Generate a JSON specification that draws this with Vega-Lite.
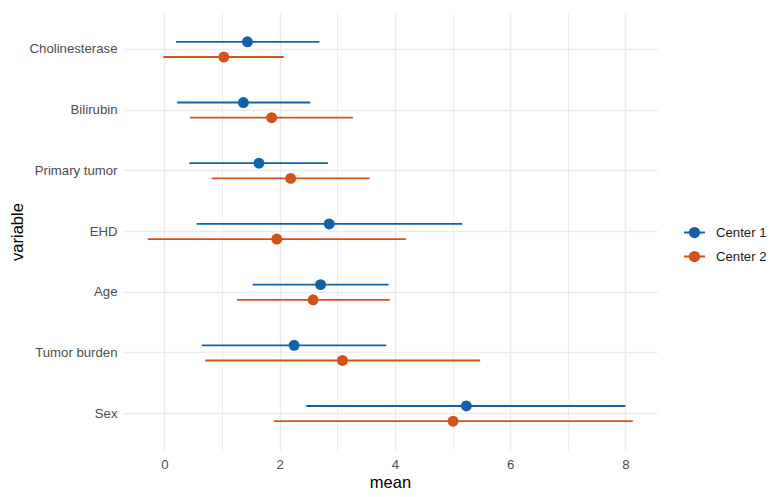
{
  "$schema": "https://vega.github.io/schema/vega-lite/v6.json",
  "autosize": {"type": "none"},
  "padding": {"left": 123, "top": 13, "right": 114, "bottom": 47},
  "width": 534,
  "height": 437,
  "background": "white",
  "config": {
    "font": "Liberation Sans",
    "view": {"stroke": null},
    "axis": {
      "domain": false,
      "ticks": false,
      "gridColor": "#EBEBEB",
      "gridWidth": 1.5,
      "labelColor": "#4D4D4D",
      "labelFontSize": 13.2,
      "titleColor": "#000000",
      "titleFontSize": 16.5,
      "titleFontWeight": "normal"
    },
    "legend": {
      "labelFontSize": 13.2,
      "labelColor": "#1A1A1A",
      "padding": 0
    }
  },
  "data": {
    "values": [
      {"variable": "Cholinesterase", "center": "Center 1", "mean": 1.44, "lo": 0.20, "hi": 2.69},
      {"variable": "Cholinesterase", "center": "Center 2", "mean": 1.03, "lo": -0.02, "hi": 2.07},
      {"variable": "Bilirubin", "center": "Center 1", "mean": 1.37, "lo": 0.22, "hi": 2.53},
      {"variable": "Bilirubin", "center": "Center 2", "mean": 1.86, "lo": 0.44, "hi": 3.27},
      {"variable": "Primary tumor", "center": "Center 1", "mean": 1.64, "lo": 0.43, "hi": 2.84},
      {"variable": "Primary tumor", "center": "Center 2", "mean": 2.19, "lo": 0.82, "hi": 3.56},
      {"variable": "EHD", "center": "Center 1", "mean": 2.86, "lo": 0.56, "hi": 5.17},
      {"variable": "EHD", "center": "Center 2", "mean": 1.95, "lo": -0.29, "hi": 4.19},
      {"variable": "Age", "center": "Center 1", "mean": 2.71, "lo": 1.53, "hi": 3.89},
      {"variable": "Age", "center": "Center 2", "mean": 2.58, "lo": 1.26, "hi": 3.91},
      {"variable": "Tumor burden", "center": "Center 1", "mean": 2.25, "lo": 0.65, "hi": 3.85},
      {"variable": "Tumor burden", "center": "Center 2", "mean": 3.09, "lo": 0.71, "hi": 5.48},
      {"variable": "Sex", "center": "Center 1", "mean": 5.24, "lo": 2.46, "hi": 8.00},
      {"variable": "Sex", "center": "Center 2", "mean": 5.01, "lo": 1.90, "hi": 8.13}
    ]
  },
  "encoding": {
    "y": {
      "field": "variable",
      "type": "nominal",
      "sort": ["Cholinesterase", "Bilirubin", "Primary tumor", "EHD", "Age", "Tumor burden", "Sex"],
      "scale": {"paddingInner": 0, "paddingOuter": 0.1},
      "axis": {"title": "variable", "labelPadding": 6, "titlePadding": 4, "bandPosition": 0.5, "grid": true}
    },
    "yOffset": {
      "field": "center",
      "type": "nominal",
      "scale": {"paddingInner": 0, "paddingOuter": 1.02}
    },
    "color": {
      "field": "center",
      "type": "nominal",
      "scale": {"domain": ["Center 1", "Center 2"], "range": ["#1361A9", "#D2531A"]},
      "legend": {
        "title": null,
        "orient": "none",
        "legendX": 560,
        "legendY": 208,
        "symbolType": "M-1,0L1,0M-0.45,0A0.45,0.45,0,1,0,0.45,0A0.45,0.45,0,1,0,-0.45,0Z",
        "symbolSize": 441,
        "symbolStrokeWidth": 1.8,
        "symbolOpacity": 1,
        "labelOffset": 10,
        "rowPadding": 4,
        "encode": {
          "symbols": {"update": {"stroke": {"scale": "color", "field": "value"}}}
        }
      }
    }
  },
  "layer": [
    {
      "mark": {"type": "rule", "strokeWidth": 1.8},
      "encoding": {
        "x": {
          "field": "lo",
          "type": "quantitative",
          "scale": {"domain": [-0.72, 8.55], "nice": false, "zero": false},
          "axis": {"title": "mean", "values": [0, 2, 4, 6, 8], "labelPadding": 8, "titlePadding": 4, "grid": true}
        },
        "x2": {"field": "hi"}
      }
    },
    {
      "mark": {"type": "point", "filled": true, "size": 120, "opacity": 1},
      "encoding": {
        "x": {
          "field": "mean",
          "type": "quantitative",
          "axis": {"orient": "top", "values": [1, 3, 5, 7], "labels": false, "title": null, "grid": true, "gridWidth": 0.9}
        }
      }
    }
  ],
  "resolve": {"axis": {"x": "independent"}}
}
